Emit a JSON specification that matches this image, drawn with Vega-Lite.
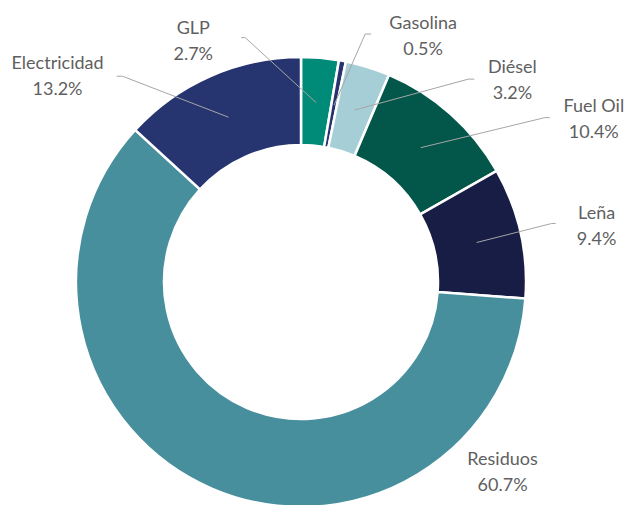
{
  "$schema": "https://vega.github.io/schema/vega-lite/v6.json",
  "width": 450,
  "height": 450,
  "autosize": "none",
  "padding": {"left": 76, "top": 57, "right": 102, "bottom": 0},
  "background": "white",
  "config": {"view": {"stroke": null}},
  "data": {
    "values": [
      {"fuente": "GLP", "pct": 2.7, "orden": 1},
      {"fuente": "Gasolina", "pct": 0.5, "orden": 2},
      {"fuente": "Diésel", "pct": 3.2, "orden": 3},
      {"fuente": "Fuel Oil", "pct": 10.4, "orden": 4},
      {"fuente": "Leña", "pct": 9.4, "orden": 5},
      {"fuente": "Residuos", "pct": 60.7, "orden": 6},
      {"fuente": "Electricidad", "pct": 13.2, "orden": 7}
    ]
  },
  "transform": [
    {"window": [{"op": "sum", "field": "pct", "as": "cum"}], "sort": [{"field": "orden", "order": "ascending"}], "frame": [null, 0]},
    {"joinaggregate": [{"op": "sum", "field": "pct", "as": "total"}]},
    {"calculate": "2 * PI * (datum.cum - datum.pct / 2) / datum.total", "as": "ang"},
    {"calculate": "180 * sin(datum.ang)", "as": "x0"},
    {"calculate": "180 * cos(datum.ang)", "as": "y0"},
    {"calculate": "datum.fuente + '\\n' + format(datum.pct, '.1f') + '%'", "as": "etiqueta"}
  ],
  "layer": [
    {
      "mark": {"type": "arc", "outerRadius": 225, "innerRadius": 137, "stroke": "white", "strokeWidth": 2.5},
      "encoding": {
        "theta": {"field": "pct", "type": "quantitative", "stack": true},
        "order": {"field": "orden", "type": "quantitative"},
        "color": {
          "field": "fuente", "type": "nominal", "legend": null,
          "scale": {
            "domain": ["GLP", "Gasolina", "Diésel", "Fuel Oil", "Leña", "Residuos", "Electricidad"],
            "range": ["#008a78", "#26336f", "#a6ced7", "#02574a", "#171d45", "#478f9c", "#26346f"]
          }
        }
      }
    },
    {
      "transform": [{"filter": "datum.fuente === 'GLP'"}],
      "encoding": {
        "x": {"field": "x0", "type": "quantitative", "scale": {"domain": [-225, 225], "nice": false, "zero": false}, "axis": null},
        "y": {"field": "y0", "type": "quantitative", "scale": {"domain": [-225, 225], "nice": false, "zero": false}, "axis": null}
      },
      "layer": [
        {"mark": {"type": "rule", "color": "#a6a6a6", "strokeWidth": 1, "x2Offset": -71, "y2Offset": -65}, "encoding": {"x2": {"field": "x0"}, "y2": {"field": "y0"}}},
        {"mark": {"type": "rule", "color": "#a6a6a6", "strokeWidth": 1, "xOffset": -71, "yOffset": -65, "x2Offset": -75, "y2Offset": -65}, "encoding": {"x2": {"field": "x0"}, "y2": {"field": "y0"}}},
        {"mark": {"type": "text", "dx": -123, "dy": -74, "align": "center", "baseline": "middle", "lineBreak": "\n", "lineHeight": 26, "font": "Lato", "fontSize": 18, "color": "#5f5f5f"}, "encoding": {"text": {"field": "etiqueta"}}}
      ]
    },
    {
      "transform": [{"filter": "datum.fuente === 'Gasolina'"}],
      "encoding": {
        "x": {"field": "x0", "type": "quantitative", "scale": {"domain": [-225, 225], "nice": false, "zero": false}, "axis": null},
        "y": {"field": "y0", "type": "quantitative", "scale": {"domain": [-225, 225], "nice": false, "zero": false}, "axis": null}
      },
      "layer": [
        {"mark": {"type": "rule", "color": "#a6a6a6", "strokeWidth": 1, "x2Offset": 31, "y2Offset": -71}, "encoding": {"x2": {"field": "x0"}, "y2": {"field": "y0"}}},
        {"mark": {"type": "rule", "color": "#a6a6a6", "strokeWidth": 1, "xOffset": 31, "yOffset": -71, "x2Offset": 37, "y2Offset": -71}, "encoding": {"x2": {"field": "x0"}, "y2": {"field": "y0"}}},
        {"mark": {"type": "text", "dx": 89, "dy": -81, "align": "center", "baseline": "middle", "lineBreak": "\n", "lineHeight": 26, "font": "Lato", "fontSize": 18, "color": "#5f5f5f"}, "encoding": {"text": {"field": "etiqueta"}}}
      ]
    },
    {
      "transform": [{"filter": "datum.fuente === 'Diésel'"}],
      "encoding": {
        "x": {"field": "x0", "type": "quantitative", "scale": {"domain": [-225, 225], "nice": false, "zero": false}, "axis": null},
        "y": {"field": "y0", "type": "quantitative", "scale": {"domain": [-225, 225], "nice": false, "zero": false}, "axis": null}
      },
      "layer": [
        {"mark": {"type": "rule", "color": "#a6a6a6", "strokeWidth": 1, "x2Offset": 114, "y2Offset": -31}, "encoding": {"x2": {"field": "x0"}, "y2": {"field": "y0"}}},
        {"mark": {"type": "rule", "color": "#a6a6a6", "strokeWidth": 1, "xOffset": 114, "yOffset": -31, "x2Offset": 120, "y2Offset": -31}, "encoding": {"x2": {"field": "x0"}, "y2": {"field": "y0"}}},
        {"mark": {"type": "text", "dx": 158, "dy": -42, "align": "center", "baseline": "middle", "lineBreak": "\n", "lineHeight": 26, "font": "Lato", "fontSize": 18, "color": "#5f5f5f"}, "encoding": {"text": {"field": "etiqueta"}}}
      ]
    },
    {
      "transform": [{"filter": "datum.fuente === 'Fuel Oil'"}],
      "encoding": {
        "x": {"field": "x0", "type": "quantitative", "scale": {"domain": [-225, 225], "nice": false, "zero": false}, "axis": null},
        "y": {"field": "y0", "type": "quantitative", "scale": {"domain": [-225, 225], "nice": false, "zero": false}, "axis": null}
      },
      "layer": [
        {"mark": {"type": "rule", "color": "#a6a6a6", "strokeWidth": 1, "x2Offset": 124, "y2Offset": -30}, "encoding": {"x2": {"field": "x0"}, "y2": {"field": "y0"}}},
        {"mark": {"type": "rule", "color": "#a6a6a6", "strokeWidth": 1, "xOffset": 124, "yOffset": -30, "x2Offset": 129, "y2Offset": -30}, "encoding": {"x2": {"field": "x0"}, "y2": {"field": "y0"}}},
        {"mark": {"type": "text", "dx": 173, "dy": -41, "align": "center", "baseline": "middle", "lineBreak": "\n", "lineHeight": 26, "font": "Lato", "fontSize": 18, "color": "#5f5f5f"}, "encoding": {"text": {"field": "etiqueta"}}}
      ]
    },
    {
      "transform": [{"filter": "datum.fuente === 'Leña'"}],
      "encoding": {
        "x": {"field": "x0", "type": "quantitative", "scale": {"domain": [-225, 225], "nice": false, "zero": false}, "axis": null},
        "y": {"field": "y0", "type": "quantitative", "scale": {"domain": [-225, 225], "nice": false, "zero": false}, "axis": null}
      },
      "layer": [
        {"mark": {"type": "rule", "color": "#a6a6a6", "strokeWidth": 1, "x2Offset": 75, "y2Offset": -19}, "encoding": {"x2": {"field": "x0"}, "y2": {"field": "y0"}}},
        {"mark": {"type": "rule", "color": "#a6a6a6", "strokeWidth": 1, "xOffset": 75, "yOffset": -19, "x2Offset": 79, "y2Offset": -19}, "encoding": {"x2": {"field": "x0"}, "y2": {"field": "y0"}}},
        {"mark": {"type": "text", "dx": 120, "dy": -28, "align": "center", "baseline": "middle", "lineBreak": "\n", "lineHeight": 26, "font": "Lato", "fontSize": 18, "color": "#5f5f5f"}, "encoding": {"text": {"field": "etiqueta"}}}
      ]
    },
    {
      "transform": [{"filter": "datum.fuente === 'Residuos'"}],
      "encoding": {
        "x": {"field": "x0", "type": "quantitative", "scale": {"domain": [-225, 225], "nice": false, "zero": false}, "axis": null},
        "y": {"field": "y0", "type": "quantitative", "scale": {"domain": [-225, 225], "nice": false, "zero": false}, "axis": null}
      },
      "layer": [
        {"mark": {"type": "text", "dx": 273, "dy": 13, "align": "center", "baseline": "middle", "lineBreak": "\n", "lineHeight": 26, "font": "Lato", "fontSize": 18, "color": "#5f5f5f"}, "encoding": {"text": {"field": "etiqueta"}}}
      ]
    },
    {
      "transform": [{"filter": "datum.fuente === 'Electricidad'"}],
      "encoding": {
        "x": {"field": "x0", "type": "quantitative", "scale": {"domain": [-225, 225], "nice": false, "zero": false}, "axis": null},
        "y": {"field": "y0", "type": "quantitative", "scale": {"domain": [-225, 225], "nice": false, "zero": false}, "axis": null}
      },
      "layer": [
        {"mark": {"type": "rule", "color": "#a6a6a6", "strokeWidth": 1, "x2Offset": -106, "y2Offset": -41}, "encoding": {"x2": {"field": "x0"}, "y2": {"field": "y0"}}},
        {"mark": {"type": "rule", "color": "#a6a6a6", "strokeWidth": 1, "xOffset": -106, "yOffset": -41, "x2Offset": -112, "y2Offset": -41}, "encoding": {"x2": {"field": "x0"}, "y2": {"field": "y0"}}},
        {"mark": {"type": "text", "dx": -171, "dy": -53, "align": "center", "baseline": "middle", "lineBreak": "\n", "lineHeight": 26, "font": "Lato", "fontSize": 18, "color": "#5f5f5f"}, "encoding": {"text": {"field": "etiqueta"}}}
      ]
    }
  ]
}
